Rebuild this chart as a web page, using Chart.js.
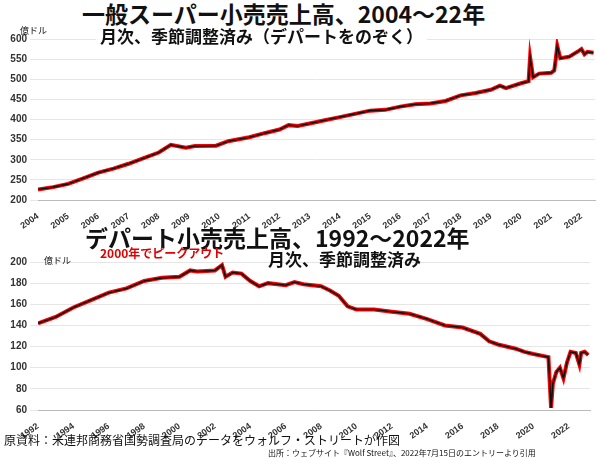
<!DOCTYPE html>
<html>
<head>
<meta charset="utf-8">
<script src="https://cdn.jsdelivr.net/npm/chart.js@4"></script>
<style>
body { margin: 0; width: 600px; height: 458px; background: #fff; position: relative; overflow: hidden;
       font-family: "Noto Sans CJK JP", "Noto Sans", sans-serif; }
.box { position: absolute; left: 0; width: 600px; }
.t { position: absolute; white-space: nowrap; font-weight: bold; color: #111; line-height: 1; }
</style>
</head>
<body>
<div class="box" style="top:30px;height:200px"><canvas id="topChart"></canvas></div>
<div class="box" style="top:252px;height:188px"><canvas id="bottomChart"></canvas></div>

<div class="t" style="left:82px;top:2px;font-size:23px;">一般スーパー小売売上高、2004～22年</div>
<div class="t" style="left:96px;top:27px;font-size:17px;background:#fff;padding:0 4px;">月次、季節調整済み（デパートをのぞく）</div>
<div class="t" style="left:20px;top:26px;font-size:9px;font-weight:normal;">億ドル</div>

<div class="t" style="left:85px;top:226px;font-size:23px;">デパート小売売上高、1992～2022年</div>
<div class="t" style="left:100px;top:247px;font-size:12px;color:#e00000;">2000年でピークアウト</div>
<div class="t" style="left:268px;top:250px;font-size:17px;">月次、季節調整済み</div>
<div class="t" style="left:44px;top:256px;font-size:9px;font-weight:normal;">億ドル</div>

<div class="t" style="left:4px;top:434px;font-size:12px;font-weight:normal;">原資料：米連邦商務省国勢調査局のデータをウォルフ・ストリートが作図</div>
<div class="t" style="left:268px;top:449px;font-size:8px;font-weight:normal;">出所：ウェブサイト『Wolf Street』、2022年7月15日のエントリーより引用</div>

<script>
"use strict";

const retailYears = [2004, 2004.5, 2005, 2005.5, 2006, 2006.5, 2007, 2007.5, 2008, 2008.4, 2008.9, 2009.2, 2009.9,
    2010.3, 2011, 2011.5, 2012, 2012.3, 2012.6, 2013, 2013.5, 2014, 2014.5, 2015, 2015.5, 2016, 2016.5, 2017,
    2017.5, 2018, 2018.5, 2019, 2019.3, 2019.5, 2020, 2020.25, 2020.3, 2020.4, 2020.6, 2021, 2021.1, 2021.15,
    2021.2, 2021.3, 2021.6, 2021.9, 2022.0, 2022.1, 2022.2, 2022.4];
const retailValues = [226, 232, 240, 254, 268, 278, 290, 304, 318, 337, 330, 334, 335,
    346, 356, 366, 375, 386, 384, 390, 398, 406, 414, 422, 424, 432, 438, 440,
    446, 460, 466, 474, 484, 478, 490, 495, 555, 505, 514, 516, 522, 550,
    583, 552, 556, 570, 575, 562, 568, 566];

const deptYears = [1992, 1993, 1994, 1995, 1996, 1997, 1998, 1999, 2000, 2000.6, 2001, 2002, 2002.4, 2002.6,
    2003, 2003.5, 2004, 2004.5, 2005, 2006, 2006.5, 2007, 2008, 2008.5, 2009, 2009.5, 2010, 2011, 2012,
    2013, 2014, 2015, 2016, 2017, 2017.5, 2018, 2019, 2019.5, 2020, 2020.85, 2021.0, 2021.1, 2021.3, 2021.5,
    2021.7, 2021.9, 2022.1, 2022.4, 2022.6, 2022.7, 2022.9, 2023.1];
const deptValues = [142, 148, 157, 164, 171, 175, 182, 185, 186, 192, 191, 192, 197, 186,
    190, 189, 182, 177, 180, 178, 181, 179, 177, 173, 168, 158, 155, 155, 153,
    151, 146, 140, 138, 132, 125, 122, 118, 115, 113, 110, 62, 85, 96, 100,
    90, 105, 115, 114, 103, 114, 115, 112];

function toPoints(xs, ys) {
    return xs.map((x, i) => ({ x: x, y: ys[i] }));
}

function makeChart(id, xs, ys, opts) {
    const pts = toPoints(xs, ys);
    new Chart(document.getElementById(id), {
        type: 'line',
        data: {
            datasets: [
                { data: pts, borderColor: '#111', borderWidth: 1.6, pointRadius: 0, tension: 0 },
                { data: pts, borderColor: '#ff0000', borderWidth: 4, pointRadius: 0, tension: 0 }
            ]
        },
        options: {
            responsive: true,
            maintainAspectRatio: false,
            animation: false,
            layout: { padding: opts.padding },
            plugins: { legend: { display: false }, tooltip: { enabled: false } },
            scales: {
                x: {
                    type: 'linear', min: opts.xMin, max: opts.xMax,
                    grid: { display: false },
                    border: { color: '#bbb' },
                    afterFit: (s) => { s.height = opts.xHeight; },
                    afterBuildTicks: (s) => {
                        s.ticks = opts.xTicks.map((v) => ({ value: v }));
                    },
                    ticks: {
                        autoSkip: false, maxRotation: 35, minRotation: 35,
                        font: { size: 9, family: 'Liberation Sans', weight: 'bold' }, color: '#333',
                        callback: (v) => String(v)
                    }
                },
                y: {
                    min: opts.yMin, max: opts.yMax,
                    grid: { color: '#e6e6e6' },
                    border: { display: false },
                    afterFit: (s) => { s.width = 38; },
                    ticks: {
                        stepSize: opts.yStep,
                        font: { size: 10, family: 'Liberation Sans', weight: 'bold' }, color: '#333'
                    }
                }
            }
        }
    });
}

const retailTicks = [];
for (let y = 2004; y <= 2022; y++) retailTicks.push(y);
const deptTicks = [];
for (let y = 1992; y <= 2022; y += 2) deptTicks.push(y);

makeChart('topChart', retailYears, retailValues, {
    xMin: 2004, xMax: 2022.45, xTicks: retailTicks, xHeight: 30,
    yMin: 200, yMax: 600, yStep: 50,
    padding: { top: 8, right: 5 }
});

makeChart('bottomChart', deptYears, deptValues, {
    xMin: 1992, xMax: 2023.2, xTicks: deptTicks, xHeight: 30,
    yMin: 60, yMax: 200, yStep: 20,
    padding: { top: 10, right: 10 }
});
</script>
</body>
</html>
